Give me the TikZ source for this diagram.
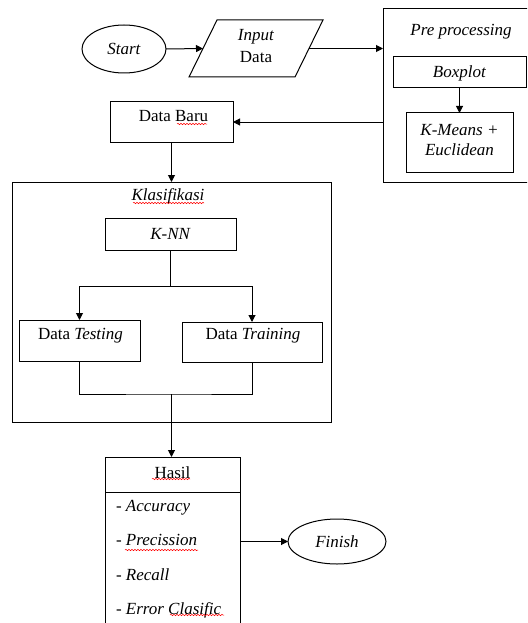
\documentclass[tikz,border=0pt]{standalone}
\usepackage{fontspec}
\setmainfont{Liberation Serif}
\usetikzlibrary{arrows.meta,shapes.geometric,decorations.pathmorphing}
\begin{document}
\begin{tikzpicture}[x=1pt,y=-1pt,
  every node/.style={font=\fontsize{17}{22}\selectfont, inner sep=0pt, outer sep=0pt},
  line/.style={line width=1pt, draw=black},
  arr/.style={line width=1pt, -{Triangle[length=7pt,width=7pt]}},
  box/.style={draw, line width=1pt, rectangle},
  oval/.style={draw, line width=1pt, ellipse},
  lbl/.style={align=center},
  wavy/.style={draw=red, line width=0.5pt, decorate, decoration={snake, amplitude=0.7pt, segment length=3pt}}
]
\useasboundingbox (0,0) rectangle (527,623);
\clip (0,0) rectangle (527,623);

% top row
\node[oval, minimum width=84pt, minimum height=48pt] (start) at (124,49) {\textit{Start}};
\node[rectangle, minimum width=134pt, minimum height=57pt] (input) at (256,48.5) {};
\draw[line, line join=miter] ([xshift=28pt]input.north west) -- (input.north east)
   -- ([xshift=-28pt]input.south east) -- (input.south west) -- cycle;
\node[lbl] (inputtext) at (256,46) {\textit{Input}\\Data};

% pre processing
\node[box, minimum width=153pt, minimum height=173pt] (pre) at (459.5,95.5) {};
\node (pretitle) at (461,32) {\textit{Pre processing}};
\node[box, minimum width=133pt, minimum height=31pt] (boxplot) at (459.5,72.5) {};
\node (boxplottext) at (459.5,73) {\textit{Boxplot}};
\node[box, minimum width=107pt, minimum height=59pt] (kmeans) at (459.5,142.5) {};
\node[lbl, font=\fontsize{17}{20}\selectfont\itshape] (kmeanstext) at (459.5,140) {K-Means +\\Euclidean};

% data baru
\node[box, minimum width=123pt, minimum height=40pt] (databaru) at (171.5,122) {};
\node (databarutext) at (173.5,116.5) {Data Baru};

% klasifikasi
\node[box, minimum width=319pt, minimum height=240pt] (klas) at (171.5,302) {};
\node (klastitle) at (168,196) {\textit{Klasifikasi}};
\node[box, minimum width=131pt, minimum height=32pt] (knn) at (170.5,234) {\textit{K-NN}};
\node[box, minimum width=121pt, minimum height=41pt] (testing) at (79.5,340.5) {};
\node (testingtext) at (80.5,335.5) {Data \textit{Testing}};
\node[box, minimum width=140pt, minimum height=40pt] (training) at (252,342) {};
\node (trainingtext) at (253,335.5) {Data \textit{Training}};
\coordinate (ja) at (170.5,286);
\coordinate (jb) at (171.5,394);

% hasil
\node[box, minimum width=135pt, minimum height=193pt] (hasil) at (172.5,553.5) {};
\draw[line] (hasil.west |- 0,492) -- (hasil.east |- 0,492);
\node (hasiltitle) at (172.5,473) {Hasil};
\node[anchor=west, font=\fontsize{17}{22}\selectfont\itshape] (acc) at (116,508) {- Accuracy};
\node[anchor=west, font=\fontsize{17}{22}\selectfont\itshape] (prec) at (116,540) {- Precission};
\node[anchor=west, font=\fontsize{17}{22}\selectfont\itshape] (rec) at (116,575) {- Recall};
\node[anchor=west, font=\fontsize{17}{22}\selectfont\itshape] (err) at (116,610) {- Error Clasific};
\node[oval, minimum width=98pt, minimum height=45pt] (finish) at (337,541.5) {\textit{Finish}};

% connectors
\draw[arr] (start.east) -- ([xshift=14pt]input.west);
\draw[arr] ([xshift=-14pt]input.east) -- (input.east -| pre.west);
\draw[arr] (boxplot.south) -- (kmeans.north);
\draw[arr] (databaru.east -| pre.west) -- (databaru.east);
\draw[arr] (databaru.south) -- (databaru.south |- klas.north);
\draw[line] (knn.south) -- (ja);
\draw[arr] (ja) -| (testing.north);
\draw[arr] (ja) -| (training.north);
\draw[line] (testing.south) |- (jb) -| (training.south);
\draw[arr] (jb) -- (jb |- hasil.north);
\draw[arr] (finish.west -| hasil.east) -- (finish.west);

% spell-check marks
\draw[wavy] (177,124) -- (207,124);
\draw[wavy] (133,203) -- (204,203);
\draw[wavy] (152,479) -- (190,479);
\draw[wavy] (125,550) -- (198,550);
\draw[wavy] (170,615) -- (224,615);
\end{tikzpicture}
\end{document}
